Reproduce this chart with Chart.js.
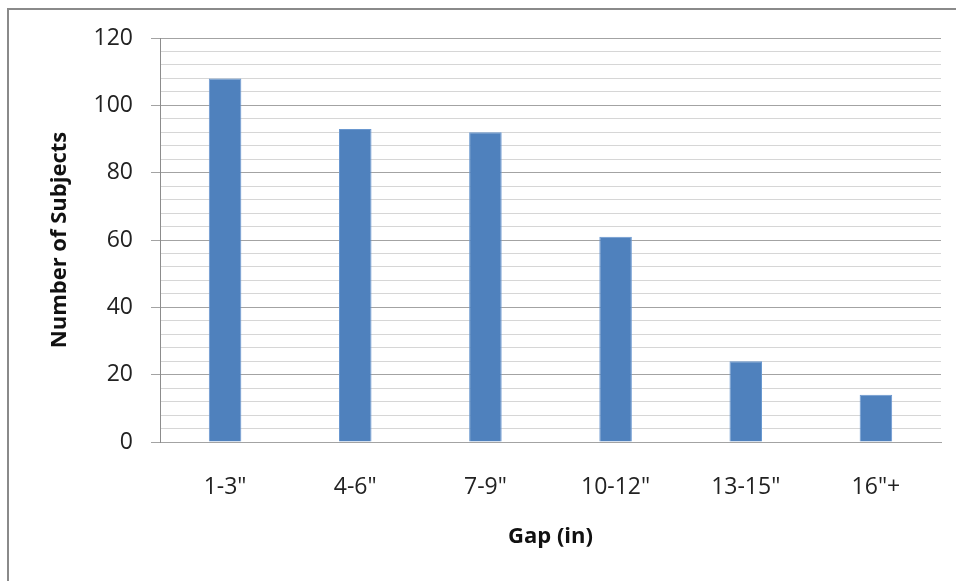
<!DOCTYPE html>
<html>
<head>
<meta charset="utf-8">
<script src="https://cdn.jsdelivr.net/npm/chart.js@4/dist/chart.umd.min.js"></script>
<style>
  html, body { margin: 0; padding: 0; background: #ffffff; }
  #wrap { position: relative; width: 956px; height: 581px; }
</style>
</head>
<body>
<div id="wrap"><canvas id="chart" width="956" height="581"></canvas></div>
<script>
// Gap size groups and how many subjects fell into each
const gapLabels = ['1-3"', '4-6"', '7-9"', '10-12"', '13-15"', '16"+'];
const subjectCounts = [108, 93, 92, 61, 24, 14];
const yMajorTicks = [0, 20, 40, 60, 80, 100, 120];

const FONT = '"Open Sans", Lato, "Liberation Sans", sans-serif';
const MAJOR = '#a3a3a3';
const MINOR = '#d6d6d6';

// Outer frame (left and top edges of the chart box)
const framePlugin = {
  id: 'frame',
  beforeDraw(chart) {
    const ctx = chart.ctx;
    ctx.save();
    ctx.fillStyle = '#ffffff';
    ctx.fillRect(0, 0, chart.width, chart.height);
    ctx.strokeStyle = '#8a8a8a';
    ctx.lineWidth = 2;
    ctx.beginPath();
    ctx.moveTo(8, chart.height);
    ctx.lineTo(8, 9);
    ctx.lineTo(chart.width, 9);
    ctx.stroke();
    ctx.restore();
  }
};

const isMajor = v => yMajorTicks.includes(v);

new Chart(document.getElementById('chart'), {
  type: 'bar',
  data: {
    labels: gapLabels,
    datasets: [{
      data: subjectCounts,
      backgroundColor: '#4f81bd',
      borderColor: '#6a98d0',
      borderWidth: 1,
      barPercentage: 0.25,
      categoryPercentage: 1.0
    }]
  },
  options: {
    responsive: false,
    animation: false,
    layout: { padding: { left: 45, right: 15, top: 38, bottom: 27 } },
    plugins: {
      legend: { display: false },
      tooltip: { enabled: false }
    },
    scales: {
      x: {
        grid: { display: false },
        border: { display: true, color: MAJOR },
        ticks: {
          color: '#222222',
          font: { family: FONT, size: 23 },
          padding: 24,
          maxRotation: 0
        },
        title: {
          display: true,
          text: 'Gap (in)',
          color: '#111111',
          font: { family: FONT, size: 22, weight: 'bold' },
          padding: { top: 4, bottom: 4 }
        },
        afterFit(scale) { scale.height = 112; }
      },
      y: {
        min: 0,
        max: 120,
        grid: {
          color: c => isMajor(c.tick && c.tick.value) ? MAJOR : MINOR,
          tickColor: c => isMajor(c.tick && c.tick.value) ? MAJOR : 'rgba(0,0,0,0)',
          tickLength: 9,
          lineWidth: 1
        },
        border: { display: true, color: '#8c8c8c' },
        ticks: {
          stepSize: 4,
          autoSkip: false,
          color: '#222222',
          font: { family: FONT, size: 23 },
          padding: 18,
          callback: v => isMajor(v) ? String(v) : ''
        },
        title: {
          display: true,
          text: 'Number of Subjects',
          color: '#111111',
          font: { family: FONT, size: 22, weight: 'bold' },
          padding: { top: 2, bottom: 4 }
        },
        afterFit(scale) { scale.width = 115; }
      }
    }
  },
  plugins: [framePlugin]
});
</script>
</body>
</html>
